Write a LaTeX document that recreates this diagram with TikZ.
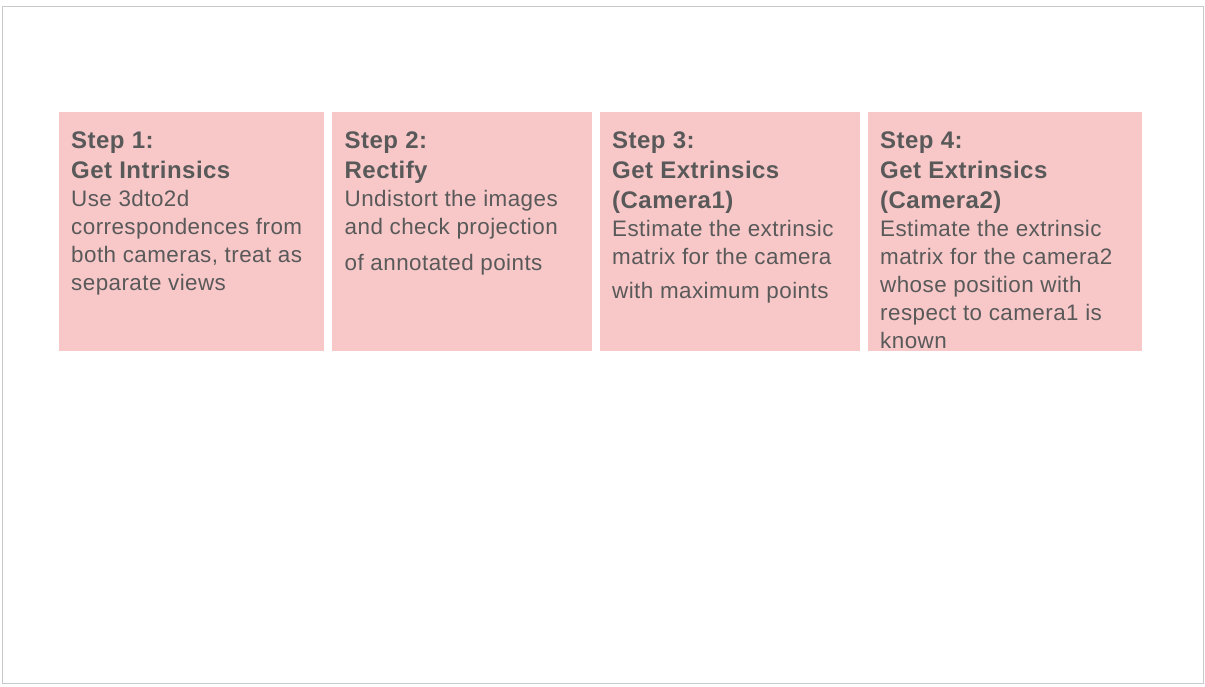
\documentclass[tikz,border=0pt]{standalone}
\usepackage{fontspec}
\setmainfont{Liberation Sans}[LetterSpace=2]
\usetikzlibrary{positioning}
\definecolor{stepfill}{HTML}{F8C8C9}
\definecolor{steptextcol}{HTML}{595959}
\definecolor{framecol}{HTML}{C6CACA}
\newcommand{\stephd}[1]{{\fontsize{24}{30}\selectfont\bfseries #1}}

\begin{document}
\begin{tikzpicture}[x=1pt, y=-1pt, node distance=7.6pt]
\tikzstyle{stepbox}=[fill=stepfill, draw=none, minimum height=239pt, inner sep=0pt, anchor=north west]
\tikzstyle{steptext}=[text=steptextcol, align=left, inner sep=0pt, font=\fontsize{22.4}{28}\selectfont]
\useasboundingbox (0,0) rectangle (1205,686);
\draw[framecol, line width=1pt] (2.5,6.5) rectangle (1203,683);

% the four boxes
\node[stepbox, minimum width=265pt] (1) at (59,112) {};
\node[stepbox, minimum width=260pt, right=of 1] (2) {};
\node[stepbox, minimum width=260pt, right=of 2] (3) {};
\node[stepbox, minimum width=274pt, right=of 3] (4) {};

% texts
\node[steptext, below right=19.5pt and 12pt of 1.north west] (t1)
  {\stephd{Step 1:}\\[2pt] \stephd{Get Intrinsics}\\[0pt]
   Use 3dto2d\\ correspondences from\\ both cameras, treat as\\ separate views};
\node[steptext, below right=19.5pt and 12.5pt of 2.north west] (t2)
  {\stephd{Step 2:}\\[2pt] \stephd{Rectify}\\[0pt]
   Undistort the images\\ and check projection\\[8pt] of annotated points};
\node[steptext, below right=19.5pt and 12pt of 3.north west] (t3)
  {\stephd{Step 3:}\\[2pt] \stephd{Get Extrinsics}\\[2pt] \stephd{(Camera1)}\\[0pt]
   Estimate the extrinsic\\ matrix for the camera\\[6pt] with maximum points};
\node[steptext, below right=19.5pt and 12pt of 4.north west] (t4)
  {\stephd{Step 4:}\\[2pt] \stephd{Get Extrinsics}\\[2pt] \stephd{(Camera2)}\\[0pt]
   Estimate the extrinsic\\ matrix for the camera2\\ whose position with\\ respect to camera1 is\\ known};

\end{tikzpicture}
\end{document}
